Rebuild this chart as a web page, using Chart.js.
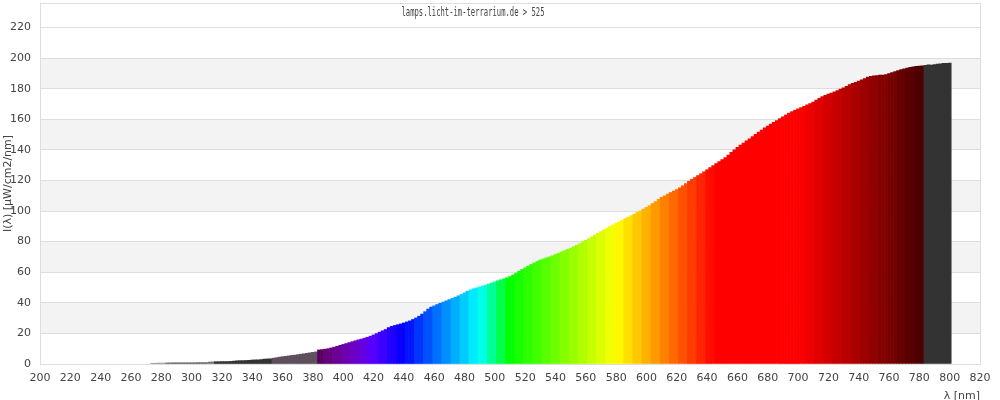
<!DOCTYPE html>
<html><head><meta charset="utf-8">
<script src="https://cdn.jsdelivr.net/npm/chart.js@4/dist/chart.umd.min.js"></script>
<style>html,body{margin:0;padding:0;background:#fff}#wrap{width:1000px;height:400px;position:relative}</style>
</head><body><div id="wrap"><canvas id="c"></canvas></div>
<script>
const titleText = 'lamps.licht-im-terrarium.de > 525';
const xTitle = 'λ [nm]';
const yTitle = 'I(λ) [µW/cm2/nm]';

const wavelengths = [
 274,276,278,280,282,284,286,288,290,292,294,296,298,300,302,304,306,308,310,312,314,316,318,320,322,324,326,328,330,332,334,336,338,340,342,344,346,348,350,352,354,356,358,360,362,364,366,368,370,372,374,376,378,380,382,
 384,386,388,390,392,394,396,398,
 400,402,404,406,408,410,412,414,416,418,
 420,422,424,426,428,430,432,434,436,438,
 440,442,444,446,448,450,452,454,456,458,
 460,462,464,466,468,470,472,474,476,478,
 480,482,484,486,488,490,492,494,496,498,
 500,502,504,506,508,510,512,514,516,518,
 520,522,524,526,528,530,532,534,536,538,
 540,542,544,546,548,550,552,554,556,558,
 560,562,564,566,568,570,572,574,576,578,
 580,582,584,586,588,590,592,594,596,598,
 600,602,604,606,608,610,612,614,616,618,
 620,622,624,626,628,630,632,634,636,638,
 640,642,644,646,648,650,652,654,656,658,
 660,662,664,666,668,670,672,674,676,678,
 680,682,684,686,688,690,692,694,696,698,
 700,702,704,706,708,710,712,714,716,718,
 720,722,724,726,728,730,732,734,736,738,
 740,742,744,746,748,750,752,754,756,758,
 760,762,764,766,768,770,772,774,776,778,
 780,782,784,786,788,790,792,794,796,798,
 800
];

const intensity = [
 0.5,0.5,0.6,0.6,0.6,
 0.7,0.7,0.8,0.8,0.8,0.8,0.8,0.8,0.8,0.8,0.9,0.9,0.9,0.9,
 1.3,1.4,
 1.5,1.5,1.6,1.6,1.6,1.7,1.9,
 2.1,2.2,2.2,2.3,2.4,
 2.6,2.7,2.7,2.9,
 3.2,3.3,3.4,
 3.8,4.1,4.5,4.8,5.0,5.3,5.6,5.8,6.1,6.4,6.7,7.0,7.3,7.6,7.9,
 9.2,9.4,9.7,10.0,10.5,11.0,11.6,12.2,
 12.8,13.4,14.0,14.6,15.2,15.8,16.3,16.9,17.5,18.2,
 19.0,19.9,20.8,21.7,22.6,23.8,24.6,25.2,25.7,26.2,
 26.8,27.5,28.2,29.1,30.1,31.2,32.6,34.2,35.9,37.2,
 38.0,38.9,39.7,40.5,41.3,42.1,42.9,43.7,44.6,45.5,
 46.5,47.6,48.5,49.2,49.8,50.4,51.0,51.6,52.3,53.0,
 53.7,54.4,55.1,55.7,56.4,57.2,58.2,59.4,60.6,61.8,
 62.9,64.0,65.1,66.1,67.1,68.0,68.7,69.4,70.0,70.8,
 71.6,72.4,73.3,74.1,74.9,75.7,76.7,77.7,78.7,79.8,
 80.9,82.0,83.1,84.3,85.5,86.6,87.7,88.8,90.0,91.0,
 92.0,93.0,94.0,95.0,96.0,97.0,98.0,99.1,100.1,101.2,
 102.4,103.5,104.8,106.2,107.6,108.9,110.0,111.1,112.0,113.0,
 114.1,115.2,116.5,117.9,119.4,120.8,122.0,123.2,124.4,125.7,
 127.0,128.4,129.7,131.0,132.3,133.6,135.0,136.6,138.3,140.0,
 141.6,143.1,144.5,145.9,147.2,148.6,150.1,151.6,153.0,154.4,
 155.6,156.8,158.0,159.2,160.4,161.6,162.8,164.0,165.0,165.9,
 166.8,167.6,168.5,169.4,170.3,171.3,172.5,173.7,174.8,175.6,
 176.4,177.1,177.9,178.8,179.7,180.6,181.6,182.6,183.5,184.2,
 184.9,185.7,186.6,187.5,188.1,188.4,188.6,188.8,188.9,189.2,
 189.8,190.5,191.2,191.8,192.4,193.0,193.5,193.9,194.3,194.6,
 194.8,195.0,195.2,195.5,195.4,195.8,196.0,196.3,196.5,196.6,
 196.8
];

const yTickValues = [0,20,40,60,80,100,120,140,160,180,200,220];
const xTickValues = [200,220,240,260,280,300,320,340,360,380,400,420,440,460,480,500,520,540,560,580,600,620,640,660,680,700,720,740,760,780,800,820];
const bandRanges = [[20,40],[60,80],[100,120],[140,160],[180,200]];

function spectrum(w){
  let r=0,g=0,b=0;
  if (w<440){ r=-(w-440)/60; b=1; }
  else if (w<490){ g=(w-440)/50; b=1; }
  else if (w<510){ g=1; b=-(w-510)/20; }
  else if (w<580){ r=(w-510)/70; g=1; }
  else if (w<645){ r=1; g=-(w-645)/65; }
  else { r=1; }
  let f=1;
  if (w<420) f=0.3+0.7*(w-380)/40;
  else if (w>700) f=0.3+0.7*(780-w)/80;
  const c=v=>Math.round(255*Math.max(0,Math.min(1,v*f)));
  return 'rgb('+c(r)+','+c(g)+','+c(b)+')';
}
function barColor(nm){
  if (nm < 283) return '#9a9a9a';
  if (nm < 311) return '#666666';
  if (nm < 315) return '#777777';
  if (nm < 353) return '#333333';
  if (nm < 383) return '#5e4f5e';
  if (nm >= 783) return '#333333';
  const c = 645 + 6*Math.floor((nm-645)/6) + 3;
  return spectrum(c);
}

const points = wavelengths.map((w,i)=>({x:w, y:intensity[i]}));

const deco = {
  id:'deco',
  beforeDraw(chart){
    const {ctx, chartArea:a, scales:{y}} = chart;
    ctx.save();
    ctx.fillStyle='#f3f3f3';
    bandRanges.forEach(([lo,hi])=>{
      const y1=y.getPixelForValue(hi), y2=y.getPixelForValue(lo);
      ctx.fillRect(a.left, y1, a.right-a.left, y2-y1);
    });
    ctx.restore();
  },
  beforeDatasetsDraw(chart){
    const {ctx, chartArea:a} = chart;
    ctx.save();
    ctx.strokeStyle='#dddddd'; ctx.lineWidth=1;
    ctx.beginPath();
    ctx.moveTo(a.left, Math.round(a.top)+0.5); ctx.lineTo(a.right, Math.round(a.top)+0.5);
    ctx.moveTo(Math.round(a.right)+0.5, a.top); ctx.lineTo(Math.round(a.right)+0.5, a.bottom);
    ctx.stroke();
    ctx.restore();
  },
  afterDraw(chart){
    const {ctx} = chart;
    ctx.save();
    ctx.font='12px "DejaVu Sans Mono"';
    ctx.fillStyle='#444';
    ctx.textAlign='center'; ctx.textBaseline='middle';
    ctx.fillText(titleText, 473, 13, 143);
    ctx.restore();
  }
};

Chart.defaults.font.family = '"DejaVu Sans", sans-serif';
Chart.defaults.font.size = 11;
Chart.defaults.color = '#444';

new Chart(document.getElementById('c'), {
  type:'bar',
  data:{ datasets:[{ data: points, backgroundColor: ctx => barColor(ctx.raw ? ctx.raw.x : 0), borderWidth:0, barPercentage:1, categoryPercentage:1 }]},
  options:{
    responsive:true, maintainAspectRatio:false, animation:false, devicePixelRatio:1,
    layout:{ padding:{ top:3, right:20, left:0, bottom:0 } },
    plugins:{ legend:{display:false}, tooltip:{enabled:false}, title:{display:false} },
    scales:{
      x:{ type:'linear', min:200, max:820, offset:false,
          afterBuildTicks: s => { s.ticks = xTickValues.map(v=>({value:v})); },
          ticks:{ padding:8, maxRotation:0, autoSkip:false },
          grid:{ display:false, drawTicks:false, offset:false },
          border:{ display:true, color:'#dddddd' },
          title:{ display:true, text:xTitle, align:'end', padding:{top:0,bottom:-3}, font:{size:11} },
          afterFit: s => { s.height = 36; s.paddingLeft = 0; s.paddingRight = 0; s.paddingTop = 0; s.paddingBottom = 0; } },
      y:{ min:0, max:236,
          afterBuildTicks: s => { s.ticks = yTickValues.map(v=>({value:v})); },
          ticks:{ padding:9 },
          grid:{ color:'#dddddd', drawTicks:false },
          border:{ display:true, color:'#dddddd' },
          title:{ display:true, text:yTitle, padding:{top:2,bottom:0}, font:{size:11} },
          afterFit: s => { s.width = 40; s.paddingTop = 0; s.paddingBottom = 0; s.paddingLeft = 0; s.paddingRight = 0; } }
    }
  },
  plugins:[deco]
});
</script></body></html>
